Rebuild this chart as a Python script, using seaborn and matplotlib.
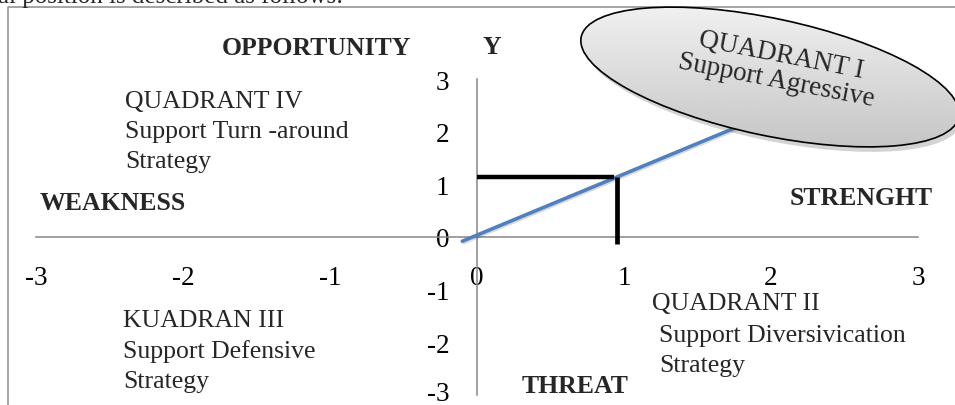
import matplotlib
matplotlib.use('Agg')
import numpy as np
import seaborn as sns
from matplotlib import pyplot as plt
from matplotlib import patheffects
from matplotlib.patches import Ellipse
from matplotlib.transforms import ScaledTranslation

W, H = 955, 406

axis_ticks = [-3, -2, -1, 0, 1, 2, 3]
tick_labels = ['-3', '-2', '-1', '0', '1', '2', '3']

# trend line through the IFE / EFE position
trend_x = [-0.1, 1.9]
trend_y = [-0.08, 2.24]

# company position (IFE x, EFE y)
position_x = 0.95
position_y = 1.13

quadrant_iv = ['QUADRANT IV', 'Support Turn -around', 'Strategy']
quadrant_iii = ['KUADRAN III', 'Support Defensive', 'Strategy']
quadrant_ii = ['QUADRANT II', 'Support Diversivication', 'Strategy']
quadrant_i = 'QUADRANT I\nSupport Agressive'

axis_names = ['OPPORTUNITY', 'Y', 'WEAKNESS', 'STRENGHT', 'THREAT']


def plot():
    sns.set_style('white')
    plt.rcParams['font.family'] = ['Liberation Serif', 'DejaVu Serif']
    plt.rcParams['axes.unicode_minus'] = False

    fig = plt.figure(figsize=(W / 100, H / 100), dpi=100)
    grey = '#868686'

    # main cartesian axes, -3..3 on both
    ax = fig.add_axes([36 / W, 10 / H, 882 / W, 316 / H])
    ax.set_xlim(-3, 3)
    ax.set_ylim(-3, 3)
    ax.patch.set_alpha(0)
    for side in ['top', 'right']:
        ax.spines[side].set_visible(False)
    for side in ['left', 'bottom']:
        ax.spines[side].set_position('zero')
        ax.spines[side].set_color(grey)
        ax.spines[side].set_linewidth(1.1)
    ax.set_xticks(axis_ticks)
    ax.set_xticklabels(tick_labels)
    ax.set_yticks(axis_ticks)
    ax.set_yticklabels(tick_labels)
    ax.tick_params(direction='out', length=6, width=1.1, color=grey,
                   labelsize=19.5, labelcolor='black')
    ax.tick_params(axis='x', pad=14)
    ax.tick_params(axis='y', pad=14)
    # lowest y label sits on the bottom edge, nudge it up a little
    low = ax.get_yticklabels()[0]
    low.set_transform(low.get_transform() + ScaledTranslation(0, 3 / 72, fig.dpi_scale_trans))

    sns.lineplot(x=trend_x, y=trend_y, ax=ax, color='#4f81bd', linewidth=2.6,
                 zorder=3, clip_on=False,
                 path_effects=[patheffects.SimpleLineShadow(offset=(1, -1), alpha=0.15),
                               patheffects.Normal()])
    ax.plot([0, position_x - 0.02], [position_y, position_y], color='black', lw=3.2,
            zorder=4, solid_capstyle='butt')
    ax.plot([position_x, position_x], [position_y, -0.14], color='black', lw=3.4,
            zorder=4, solid_capstyle='butt')

    # overlay in pixel coordinates for the frame, labels and the ellipse
    ov = fig.add_axes([0, 0, 1, 1], zorder=5)
    ov.axis('off')
    ov.patch.set_alpha(0)

    ov.plot([8, 8, W + 5], [-5, H - 8, H - 8], color='#8c8c8c', lw=1.1, zorder=1)
    # last line of the page text above the figure, cut by the crop
    ov.text(-2, H + 15, 'al position is described as follows:', fontsize=18,
            va='top', ha='left', clip_on=False)

    def lines(rows, x, baselines, xs=None):
        for i, (row, base) in enumerate(zip(rows, baselines)):
            xi = x if xs is None else xs[i]
            ov.text(xi, H - base, row, fontsize=18.5, va='baseline', ha='left')

    lines(quadrant_iv, 125, [108, 138, 168])
    lines(quadrant_iii, 123, [327, 358, 388])
    lines(quadrant_ii, 652, [310, 342, 372], xs=[652, 659, 659])

    bold = dict(fontsize=18.5, fontweight='bold', va='baseline')
    ov.text(316, H - 55, axis_names[0], ha='center', **bold)
    ov.text(482, H - 54, axis_names[1], ha='left', **bold)
    ov.text(40, H - 210, axis_names[2], ha='left', **bold)
    ov.text(790, H - 205, axis_names[3], ha='left', **bold)
    ov.text(522, H - 393, axis_names[4], ha='left', **bold)

    # quadrant I callout
    cx, cy = 770, H - 78
    shadow = Ellipse((cx + 3, cy - 5), 386, 117, angle=-12, facecolor='#6e6e6e',
                     edgecolor='none', alpha=0.3, zorder=2)
    ov.add_patch(shadow)
    ell = Ellipse((cx, cy), 386, 117, angle=-12, facecolor='none',
                  edgecolor='black', lw=1.2, zorder=4)
    ov.add_patch(ell)
    grad = np.linspace(0.95, 0.77, 100).reshape(-1, 1)
    im = ov.imshow(grad, extent=(570, 965, H - 152, H), cmap='gray', vmin=0, vmax=1,
                   aspect='auto', origin='upper', zorder=3)
    im.set_clip_path(ell)
    ov.set_xlim(0, W)
    ov.set_ylim(0, H)
    ov.text(779, H - 68, quadrant_i, fontsize=19.5, rotation=-11, rotation_mode='anchor',
            ha='center', va='center', multialignment='center', linespacing=1.0, zorder=6)

    plt.savefig('out.png', dpi=100)


if __name__ == '__main__':
    plot()
